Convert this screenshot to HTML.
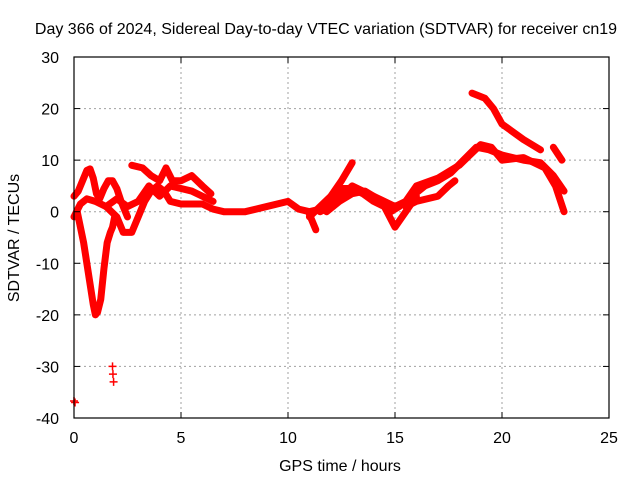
<!DOCTYPE html>
<html><head><meta charset="utf-8"><style>
body{margin:0;background:#fff}
svg text{font-family:"Liberation Sans",sans-serif;font-size:16px;fill:#000}
</style></head><body>
<svg id="chart" width="640" height="480" xmlns="http://www.w3.org/2000/svg">
<rect width="640" height="480" fill="#fff"/>
<g id="grid"></g>
<g id="series"></g>
<g id="axes"></g>
<text x="326" y="34" text-anchor="middle">Day 366 of 2024, Sidereal Day-to-day VTEC variation (SDTVAR) for receiver cn19</text>
<text x="340" y="471" text-anchor="middle">GPS time / hours</text>
<text transform="translate(19,238) rotate(-90)" text-anchor="middle">SDTVAR / TECUs</text>
</svg>
<script>
const xTicks=[0,5,10,15,20,25];
const yTicks=[30,20,10,0,-10,-20,-30,-40];
const trackDipT=[0.15,0.3,0.45,0.6,0.75,0.9,1.0,1.1,1.25,1.4,1.55,1.7,1.8,1.9];
const trackDipV=[0,-3,-6,-10,-14,-18,-20,-19.5,-17,-11,-6,-4,-3,-1];
const trackPeakT=[0,0.2,0.4,0.6,0.75,0.9,1.05,1.2,1.4,1.6,1.8,2.0,2.2,2.5];
const trackPeakV=[3,4,6,8,8.3,6.5,3.5,2.5,4.5,6,6,4.5,2,-1];
const trackLowT=[0,0.3,0.6,1.0,1.5,2.0,2.3,2.7,3.0,3.3,3.6,3.9,4.2,4.5,5.0,5.5,6.0];
const trackLowV=[-1,1.5,2.5,2,1,-1,-4,-4,-1,2,4,5,4,2,1.5,1.5,1.5];
const trackMidT=[1.5,2.0,2.5,3.0,3.5,4.0,4.5,5.0,5.5,6.0,6.5];
const trackMidV=[1,2.5,1,2,5,3,5,4.5,4,3,2];
const trackUpT=[2.7,3.2,3.6,4.0,4.3,4.6,5.0,5.5,6.0,6.4];
const trackUpV=[9,8.5,7,6,8.5,6,6,7,5,3.5];
const trackQuietT=[6.0,6.5,7.0,8.0,9.0,10.0,10.5,11.0,11.5,12.0,12.5,13.0,13.5,14.0,14.5,15.0,15.5,16.0];
const trackQuietV=[1.5,0.5,0,0,1,2,0.5,0,0.5,2,4.5,4.5,3.5,2,1,-3,0,3];
const trackRiseT=[11.0,11.5,12.0,12.5,13.0];
const trackRiseV=[-1,1,3,6,9.5];
const trackDropT=[11.0,11.3];
const trackDropV=[-0.5,-3.5];
const trackMainT=[11.5,12.0,13.0,14.0,15.0,15.5,16.0,17.0,18.0,18.5,19.0,19.5,20.0,21.0,22.0,22.5,22.9];
const trackMainV=[0,1,5,3,1,2,5,6.5,9,11,13,12.5,10,10.5,8.5,5,0];
const trackTwinT=[11.8,12.4,13.0,13.6,14.2,14.8,15.2,15.8,16.4,17.0,17.6,18.2,18.8,19.4,20.0,21.0,21.8,22.4,22.9];
const trackTwinV=[0,2,3.5,4,2.5,0,1,3,5,6,7.5,10,12.5,12,11,10,9.5,7,4];
const trackBranchT=[15.5,16.0,17.0,17.5,17.8];
const trackBranchV=[1,2,3,5,6];
const trackHighT=[18.6,19.2,19.6,20.0,21.0,21.8];
const trackHighV=[23,22,20,17,14,12];
const trackEndT=[22.4,22.8];
const trackEndV=[12.5,10];
const tracks=[[trackDipT,trackDipV],[trackPeakT,trackPeakV],[trackLowT,trackLowV],[trackMidT,trackMidV],[trackUpT,trackUpV],[trackQuietT,trackQuietV],[trackRiseT,trackRiseV],[trackDropT,trackDropV],[trackMainT,trackMainV],[trackTwinT,trackTwinV],[trackBranchT,trackBranchV],[trackHighT,trackHighV],[trackEndT,trackEndV]];
const outT=[0.0,0.05,1.8,1.82,1.85];
const outV=[-36.7,-37,-30,-31.5,-33];
const NS='http://www.w3.org/2000/svg';
const L=74,R=609,T=57,B=418;
function xs(t){return L+(t-0)/(25-0)*(R-L);}
function ys(v){return B-(v+40)/70*(B-T);}
function mk(tag,a,p){const e=document.createElementNS(NS,tag);for(const k in a)e.setAttribute(k,a[k]);p.appendChild(e);return e;}
const grid=document.getElementById('grid'),axes=document.getElementById('axes'),ser=document.getElementById('series');
xTicks.forEach(t=>{
 if(t>0&&t<25){const g=mk('line',{x1:xs(t),x2:xs(t),y1:T,y2:B,stroke:'#a0a0a0','stroke-dasharray':'2,3'},grid);
 }
 const tk=mk('line',{x1:xs(t),x2:xs(t),y1:B,y2:B-6,stroke:'#000'},axes);
 
 const tk2=mk('line',{x1:xs(t),x2:xs(t),y1:T,y2:T+6,stroke:'#000'},axes);
 
 const tx=mk('text',{x:xs(t),y:B+25,'text-anchor':'middle'},axes);tx.textContent=t;
 
});
yTicks.forEach(v=>{
 if(v>-40&&v<30){const g=mk('line',{x1:L,x2:R,y1:ys(v),y2:ys(v),stroke:'#a0a0a0','stroke-dasharray':'2,3'},grid);
 }
 const tk=mk('line',{x1:L,x2:L+6,y1:ys(v),y2:ys(v),stroke:'#000'},axes);
 
 const tk2=mk('line',{x1:R,x2:R-6,y1:ys(v),y2:ys(v),stroke:'#000'},axes);
 
 const tx=mk('text',{x:L-15,y:ys(v)+6,'text-anchor':'end'},axes);tx.textContent=v;
 
});
const fr=mk('rect',{x:L,y:T,width:R-L,height:B-T,fill:'none',stroke:'#000','stroke-width':1.2},axes);

tracks.forEach(([tt,vv])=>{
 const p=mk('polyline',{points:tt.map((t,i)=>xs(t)+','+ys(vv[i])).join(' '),fill:'none',stroke:'#ff0000','stroke-width':7,'stroke-linejoin':'round','stroke-linecap':'round'},ser);
 
});
outT.forEach((t,i)=>{
 const x=xs(t),y=ys(outV[i]);
 const p=mk('path',{d:`M${x-4},${y}H${x+4}M${x},${y-4}V${y+4}`,stroke:'#ff0000','stroke-width':1.5},ser);
 
});
</script>
</body></html>
